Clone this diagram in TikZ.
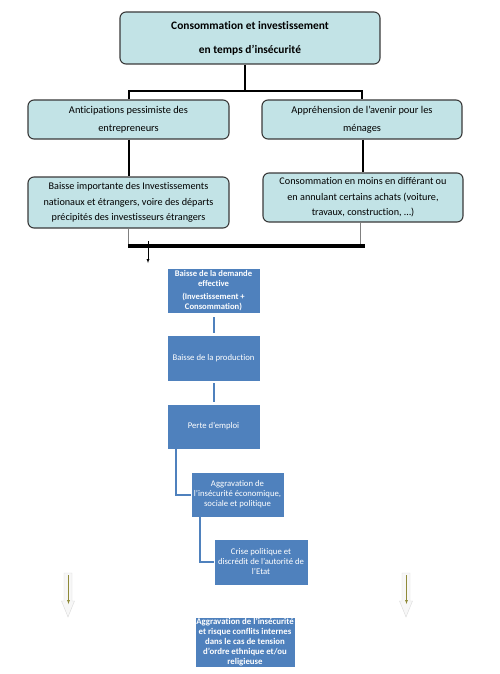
\documentclass[tikz,border=0pt]{standalone}
\usepackage{fontspec}
\setmainfont[Ligatures={NoCommon}]{Carlito}
\usepackage{xcolor}
\usetikzlibrary{calc}
\definecolor{aqua}{HTML}{C2E3E6}
\definecolor{accent}{HTML}{4F81BD}
\definecolor{edge}{HTML}{3A3A3A}

\tikzset{
  aquabox/.style={draw=edge, line width=1.1pt, fill=aqua, rounded corners=6pt,
                  align=center, inner sep=0pt, font=\fontsize{10.2}{15.5}\selectfont},
  bluebox/.style={draw=white, fill=accent, text=white, align=center, inner sep=0pt,
                  minimum width=93pt, minimum height=45pt, font=\fontsize{8.7}{10}\selectfont},
  link/.style={line width=2pt, black},
  bluelink/.style={line width=2pt, color=accent},
}

\begin{document}
\begin{tikzpicture}[x=1pt, y=-1pt]
\useasboundingbox (0,0) rectangle (500,674);

% top of the tree
\node[aquabox, minimum width=260pt, minimum height=52pt, font=\fontsize{11.4}{13}\selectfont\bfseries]
  (top) at (250,38) {Consommation et investissement\\[11pt]en temps d’insécurité};

\node[aquabox, minimum width=201pt, minimum height=39pt, font=\fontsize{10.4}{12.5}\selectfont]
  (antic) at (128.5,119.5) {Anticipations pessimiste des\\[5.5pt]entrepreneurs};
\node[aquabox, minimum width=200pt, minimum height=39pt, font=\fontsize{10.4}{12.5}\selectfont]
  (appre) at (362,119.5) {Appréhension de l’avenir pour les\\[5.5pt]ménages};

\node[aquabox, minimum width=201pt, minimum height=51pt]
  (invest) at (128.5,202.5) {Baisse importante des Investissements\\nationaux et étrangers, voire des départs\\précipités des investisseurs étrangers};
\node[aquabox, minimum width=200pt, minimum height=49pt]
  (conso) at (363,197.5) {Consommation en moins en différant ou\\en annulant certains achats (voiture,\\travaux, construction, …)};

% branches
\coordinate (fork) at (245,91);
\draw[link] (top.south -| fork) -- (fork);
\draw[link] (antic.north) |- (fork) -| (appre.north);
\draw[link] (antic.south) -- (invest.north);
\draw[link] (appre.south -| conso.north) -- (conso.north);

% the bar that joins both sides
\coordinate (barL) at (128,246);
\coordinate (barR) at (365,246);
\draw[line width=4pt, black] (barL) -- (barR);
\draw[thin, gray] (invest.south -| barL) -- ([yshift=2pt]barL);
\draw[thin, gray] ([xshift=-3pt]conso.south) -- ([xshift=-3pt,yshift=2pt]conso.south |- barR);
\coordinate (drop) at (148,263);
\draw[thin, -latex] (148,241) -- (drop);

% the chain of consequences
\node[bluebox, font=\fontsize{8.6}{9.6}\selectfont\bfseries]
  (demande) at (213.5,290.5) {Baisse de la demande\\effective\\[3.5pt](Investissement +\\Consommation)};
\node[bluebox, minimum height=46pt] (prod) at (213.5,358) {Baisse de la production};
\node[bluebox] (emploi) at (213.5,426.5) {Perte d’emploi};
\node[bluebox] (aggrav) at (237.5,494.5) {Aggravation de\\l’insécurité économique,\\sociale et politique};
\node[bluebox, minimum width=94pt, minimum height=46pt]
  (crise) at (261,562) {Crise politique et\\discrédit de l’autorité de\\l’Etat};
\node[bluebox, minimum width=100pt, minimum height=50pt, font=\fontsize{8.8}{10.2}\selectfont\bfseries]
  (conflit) at (245,642) {Aggravation de l’insécurité\\et risque conflits internes\\dans le cas de tension\\d’ordre ethnique et/ou\\religieuse};

\draw[bluelink, shorten <=4pt, shorten >=2pt] (demande.south) -- (prod.north);
\draw[bluelink, shorten <=2pt, shorten >=2pt] (prod.south) -- (emploi.north);
\draw[bluelink] ([xshift=9pt,yshift=3pt]emploi.south west) |- (aggrav.west);
\draw[bluelink] ([xshift=9pt,yshift=3pt]aggrav.south west) |- (crise.west);

% pale block arrows on both sides
\foreach \ax in {68,406} {
  \draw[draw=gray!30, fill=gray!6] (\ax-4,573) -- (\ax+4,573) -- (\ax+4,601) -- (\ax+6.5,601)
        -- (\ax,617) -- (\ax-6.5,601) -- (\ax-4,601) -- cycle;
  \draw[olive!60!gray, thin, -{latex}] (\ax+0.5,575) -- (\ax+0.5,604);
}

\end{tikzpicture}
\end{document}
